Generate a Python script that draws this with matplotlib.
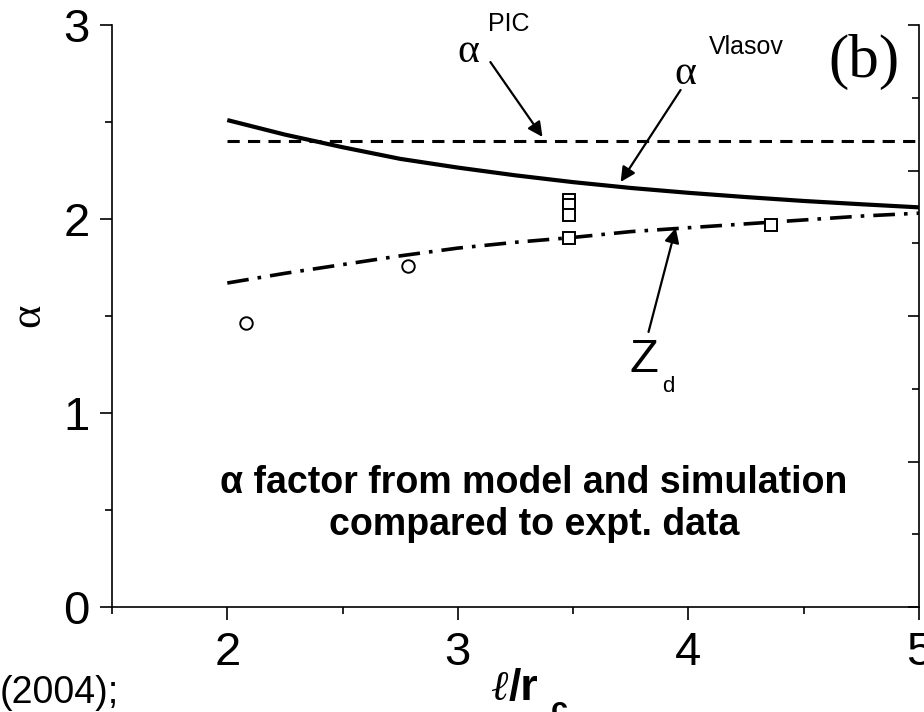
import matplotlib
matplotlib.use("Agg")
import matplotlib.pyplot as plt
from matplotlib.ticker import MultipleLocator

# ---- data ----
x_curve = [2.0, 2.25, 2.5, 2.75, 3.0, 3.25, 3.5, 3.75, 4.0, 4.25, 4.5, 4.75, 5.0]
alpha_vlasov = [2.51, 2.435, 2.37, 2.31, 2.265, 2.225, 2.19, 2.16, 2.135, 2.113, 2.093, 2.076, 2.06]
z_d = [1.67, 1.72, 1.765, 1.81, 1.85, 1.88, 1.905, 1.935, 1.955, 1.975, 1.995, 2.015, 2.03]
x_pic = [2.0, 5.0]
alpha_pic = [2.40, 2.40]

circ_x = [2.08, 2.785]
circ_y = [1.464, 1.758]
sq_x = [3.484, 3.484, 3.484, 3.484, 4.357]
sq_y = [2.10, 2.07, 2.02, 1.90, 1.97]

xticks = [2, 3, 4, 5]
yticks = [0, 1, 2, 3]

plt.rcParams['mathtext.fontset'] = 'custom'
plt.rcParams['mathtext.rm'] = 'Liberation Sans'
plt.rcParams['mathtext.bf'] = 'Liberation Sans:bold'
plt.rcParams['mathtext.it'] = 'Liberation Serif:italic'

W, H = 924, 712
fig = plt.figure(figsize=(W / 100, H / 100), dpi=100)
ax = fig.add_axes([112 / W, (H - 607) / H, 807 / W, 582 / H])

ax.plot(x_curve, alpha_vlasov, color='black', lw=3.0, solid_capstyle='butt')
ax.plot(x_pic, alpha_pic, color='black', lw=2.2, dashes=(4, 2.7))
ax.plot(x_curve, z_d, color='black', lw=2.6, dashes=(6, 2.5, 1, 2.5))
ax.plot(circ_x, circ_y, 'o', ms=9, mfc='white', mec='black', mew=1.4, ls='none')
ax.plot(sq_x, sq_y, 's', ms=9, mfc='white', mec='black', mew=1.4, ls='none')

ax.set_xlim(1.5, 5.0)
ax.set_ylim(0, 3)
ax.set_xticks(xticks)
ax.set_yticks(yticks)
ax.xaxis.set_minor_locator(MultipleLocator(0.5))
ax.yaxis.set_minor_locator(MultipleLocator(0.5))
ax.spines['top'].set_visible(False)
ax.spines['right'].set_visible(False)
for s in ['left', 'bottom']:
    ax.spines[s].set_linewidth(1.2)
ax.tick_params(which='major', direction='out', length=9, width=1.2, pad=7,
               labelsize=34)
ax.tick_params(which='minor', direction='out', length=5, width=1.2)
ax.tick_params(axis='x', which='major', pad=8)
for lab in ax.get_xticklabels() + ax.get_yticklabels():
    lab.set_family('Liberation Sans')

# right axis with inward ticks, no labels
ax2 = ax.twinx()
ax2.set_ylim(0, 8)
ax2.yaxis.set_major_locator(MultipleLocator(2))
ax2.yaxis.set_minor_locator(MultipleLocator(1))
ax2.tick_params(which='major', direction='in', length=8, width=1.2, labelright=False)
ax2.tick_params(which='minor', direction='in', length=5, width=1.2)
for s in ['top', 'left', 'bottom']:
    ax2.spines[s].set_visible(False)
ax2.spines['right'].set_linewidth(1.2)

serif = 'Liberation Serif'
sans = 'Liberation Sans'
arrow = dict(arrowstyle='-|>', lw=1.6, color='black', mutation_scale=22,
             shrinkA=0, shrinkB=0)

# annotations
ax.text(3.046, 2.86, 'α', family=serif, fontsize=30, ha='center', va='center', clip_on=False)
ax.text(3.22, 3.005, 'PIC', family=sans, fontsize=18, ha='center', va='center', clip_on=False)
ax.annotate('', xy=(3.367, 2.423), xytext=(3.141, 2.809), arrowprops=arrow)

ax.text(3.988, 2.747, 'α', family=serif, fontsize=30, ha='center', va='center')
ax.text(4.249, 2.887, 'Vlasov', family=sans, fontsize=18, ha='center', va='center')
ax.annotate('', xy=(3.706, 2.191), xytext=(3.966, 2.665), arrowprops=arrow)

ax.text(3.806, 1.273, 'Z', family=sans, fontsize=34, ha='center', va='center')
ax.text(3.914, 1.139, 'd', family=sans, fontsize=16, ha='center', va='center')
ax.annotate('', xy=(3.945, 1.954), xytext=(3.827, 1.418), arrowprops=arrow)

ax.text(4.76, 2.81, '(b)', family=serif, fontsize=44, ha='center', va='center')

# bold caption
fig.text(534 / W, (H - 493) / H, 'α factor from model and simulation',
         family=sans, fontweight='bold', fontsize=27, ha='center', va='baseline')
fig.text(534 / W, (H - 535) / H, 'compared to expt. data',
         family=sans, fontweight='bold', fontsize=27, ha='center', va='baseline')

# axis labels
fig.text(28 / W, (H - 315) / H, 'α', family=serif, fontsize=32, rotation=90,
         ha='center', va='center')
fig.text(490 / W, (H - 700) / H, r'$\ell$', fontsize=30, ha='left', va='baseline')
fig.text(509 / W, (H - 700) / H, '/r', family=sans, fontweight='bold', fontsize=32,
         ha='left', va='baseline')
fig.text(551 / W, (H - 696) / H, 'c', family=sans, fontweight='bold', fontsize=22,
         ha='left', va='top')
fig.text(0.0, (H - 703) / H, '(2004);', family=sans, fontsize=27, ha='left', va='baseline')

fig.savefig('out.png', dpi=100)
